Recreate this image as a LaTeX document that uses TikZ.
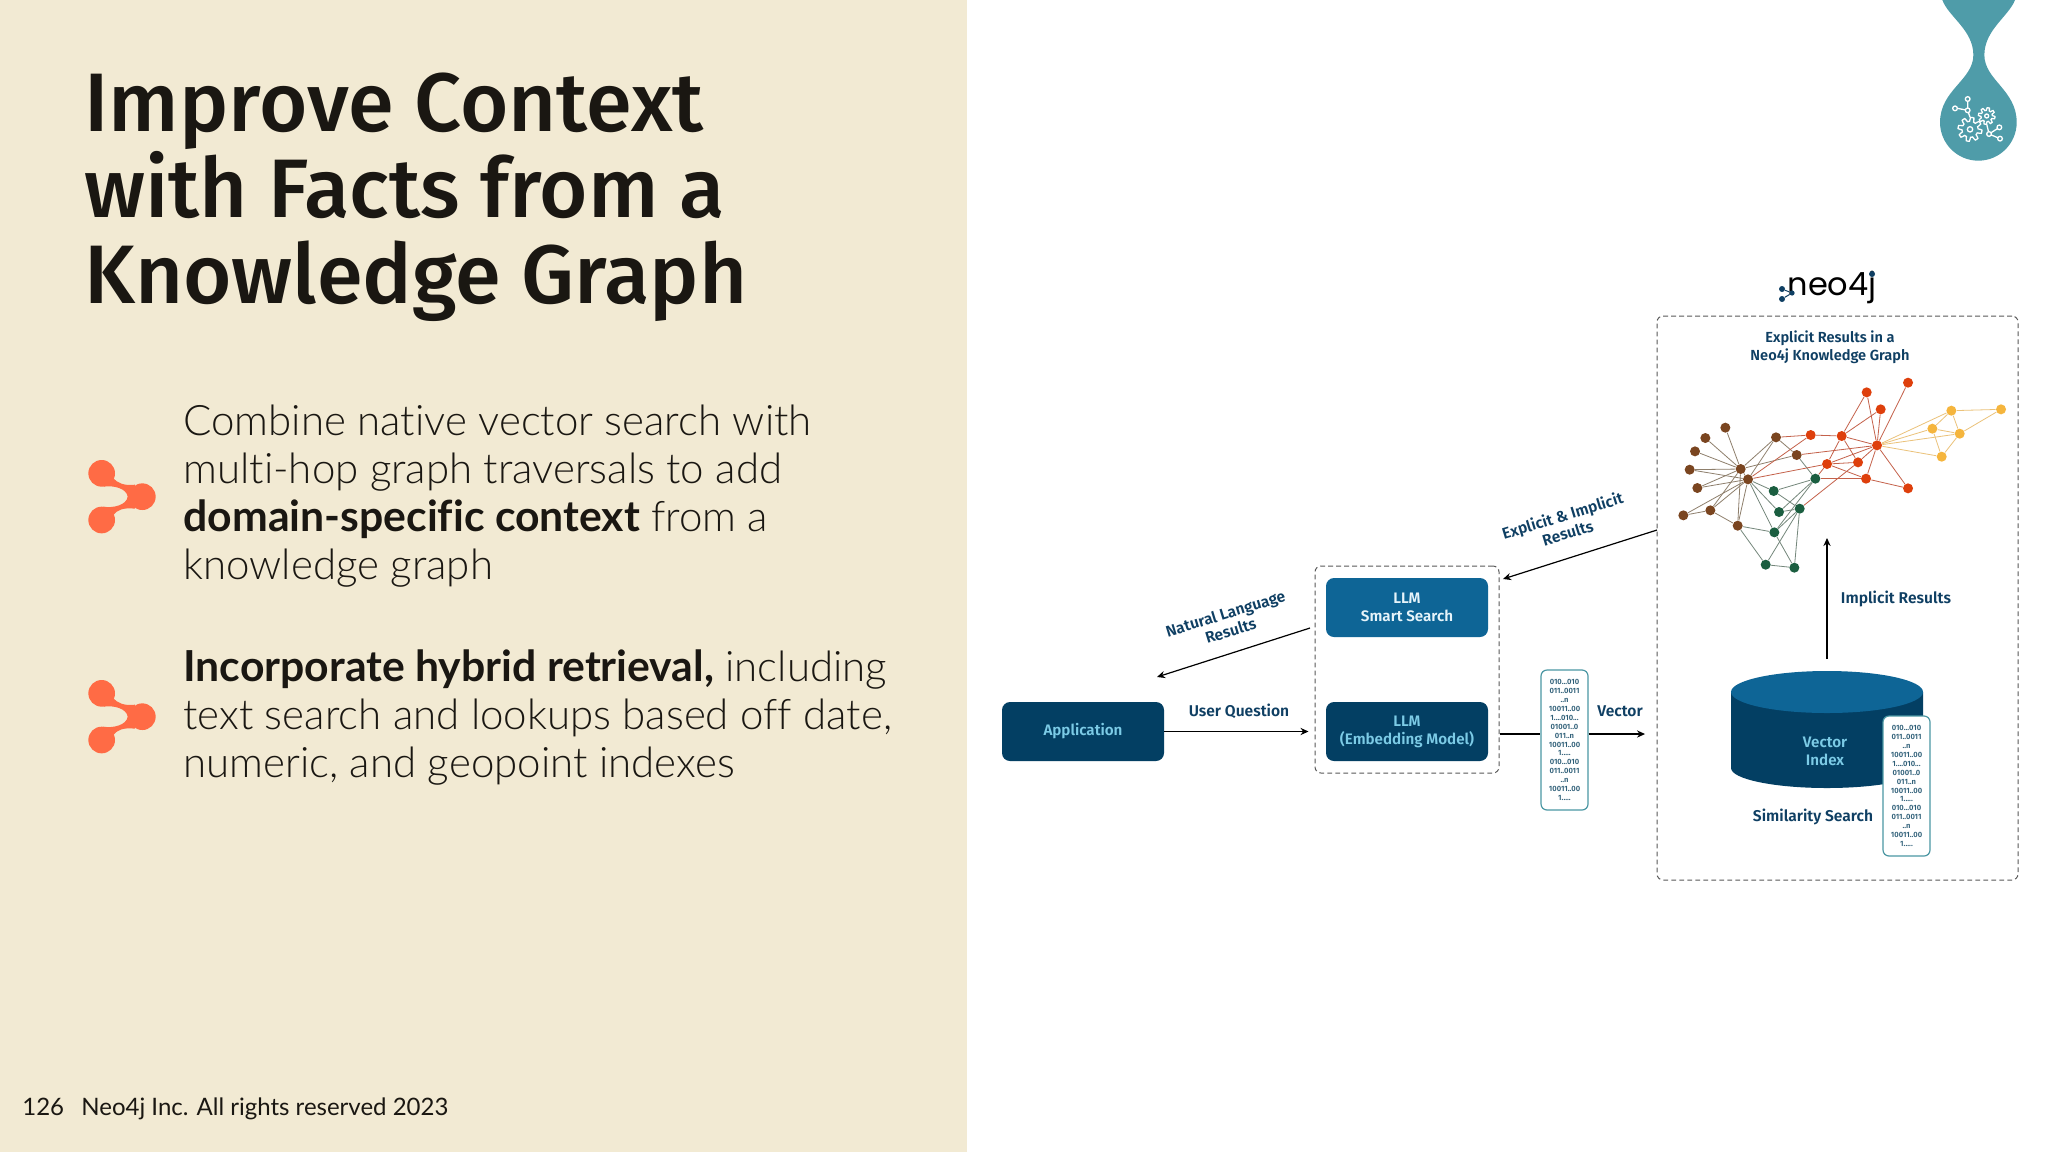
\documentclass[tikz,border=0pt]{standalone}
\usepackage{fontspec}
\usetikzlibrary{arrows.meta,backgrounds,calc}
\setmainfont{Noto Sans}
\newfontfamily\titlefont{Fira Sans Medium}
\newfontfamily\labelfont{Fira Sans SemiBold}
\newfontfamily\bodyfont{Lato Light}[BoldFont={Lato Bold},BoldFeatures={Scale=1.017},Ligatures=NoCommon]
\newfontfamily\footfont{Lato}[Ligatures=NoCommon]
\newfontfamily\logofont{Poppins}
\definecolor{panel}{HTML}{F2EAD3}
\definecolor{ink}{HTML}{1A1712}
\definecolor{coral}{HTML}{FF6B45}
\definecolor{dropteal}{HTML}{4F9CA9}
\definecolor{navy}{HTML}{033F63}
\definecolor{midblue}{HTML}{0E6596}
\definecolor{skytext}{HTML}{7CCBE6}
\definecolor{paletext}{HTML}{E6F4FA}
\definecolor{labelblue}{HTML}{0F3F63}
\definecolor{chipedge}{HTML}{4B97A3}
\definecolor{chiptext}{HTML}{2F5F78}
\definecolor{gbrown}{HTML}{7A4520}
\definecolor{gred}{HTML}{DE3F0C}
\definecolor{gyellow}{HTML}{F5B53D}
\definecolor{ggreen}{HTML}{1B5E40}
\definecolor{ebrown}{HTML}{8E7F6C}
\definecolor{ered}{HTML}{C4614A}
\definecolor{eyellow}{HTML}{EBC27A}
\definecolor{egreen}{HTML}{74877B}
\tikzset{
  px/.style={x=0.5pt,y=-0.5pt},
  titletext/.style={inner sep=0pt,anchor=north west,align=left,text=ink,font=\titlefont\fontsize{41.5}{43}\selectfont},
  bodytext/.style={inner sep=0pt,anchor=north west,align=left,text=ink,font=\bodyfont\fontsize{21}{24}\selectfont},
  foot/.style={inner sep=0pt,anchor=base west,text=ink,font=\footfont\fontsize{12}{14}\selectfont},
  flowbox/.style={rounded corners=4pt,inner sep=0pt,align=center,text=skytext,font=\labelfont\fontsize{7.6}{9}\selectfont},
  dashbox/.style={draw=black!65,line width=0.5pt,dash pattern=on 2.4pt off 1.6pt,rounded corners=3pt,inner sep=0pt},
  lbl/.style={inner sep=0pt,align=center,text=labelblue,font=\labelfont\fontsize{7.8}{9}\selectfont},
  chip/.style={draw=chipedge,line width=0.6pt,fill=white,rounded corners=3pt,inner sep=0pt,align=center,text=chiptext,font=\labelfont\fontsize{3.8}{4.45}\selectfont},
  flow/.style={-{Stealth[length=4pt,width=3.6pt]},line width=0.6pt,black},
  plainline/.style={line width=0.6pt,black},
  gn/.style={circle,inner sep=0pt,minimum size=5pt},
  bn/.style={gn,fill=gbrown},
  rn/.style={gn,fill=gred},
  yn/.style={gn,fill=gyellow},
  ln/.style={gn,fill=ggreen},
  gedge/.style={line width=0.4pt},
  iconline/.style={draw=white,line width=0.65pt},
}
\newcommand{\chiptxt}{010...010\\011..0011\\..n\\10011..00\\1....010...\\01001..0\\011..n\\10011..00\\1.....\\010...010\\011..0011\\..n\\10011..00\\1.....}
\newcommand{\coralmark}{%
  \fill[coral] (125,100) circle[radius=40];
  \fill[coral] (125,240) circle[radius=40];
  \fill[coral] (247,170) circle[radius=40];
  \fill[coral] (160,115) .. controls (172,128) and (190,138) .. (225,134) -- (225,206)
    .. controls (190,202) and (172,210) .. (160,225) -- (130,200)
    .. controls (160,205) and (200,195) .. (203,170)
    .. controls (200,145) and (160,135) .. (130,140) -- cycle;
}
\begin{document}
\begin{tikzpicture}[px]
\useasboundingbox (0,0) rectangle (2048,1152);
\begin{scope}[on background layer]
\fill[white] (0,0) rectangle (2048,1152);
\fill[panel] (0,0) rectangle (967,1152);
\end{scope}

\node[titletext] (title) at (84,72) {Improve Context\\with Facts from a\\Knowledge Graph};
\node[bodytext] (para1) at (183,405) {Combine native vector search with\\multi-hop graph traversals to add\\\textbf{domain-specific context} from a\\knowledge graph};
\node[bodytext] (para2) at (183,649) {\textbf{Incorporate hybrid retrieval,} including\\text search and lookups based off date,\\numeric, and geopoint indexes};
\node[foot] (pageno) at (22,1115) {126};
\node[foot] (rights) at (81,1115) {Neo4j Inc. All rights reserved 2023};

\begin{scope}[shift={(60,440)},x=0.16667pt,y=-0.16667pt]
  \coralmark
\end{scope}
\begin{scope}[shift={(60,660)},x=0.16667pt,y=-0.16667pt]
  \coralmark
\end{scope}

% teal drop
\begin{scope}[shift={(1920,0)},x=0.16667pt,y=-0.16667pt]
  \fill[dropteal] (67,0) .. controls (85,50) and (160,90) .. (160,165)
    .. controls (160,240) and (60,270) .. (60,367)
    arc[start angle=180,end angle=0,radius=115]
    .. controls (290,270) and (193,240) .. (193,165)
    .. controls (193,90) and (265,50) .. (285,0) -- cycle;
  \draw[iconline,shift={(150,388)}] plot[samples=97,domain=0:360] (\x:{30+6*tanh(5*sin(8*\x))}) -- cycle;
  \draw[iconline,shift={(150,388)}] (0,0) circle[radius=8];
  \draw[iconline,shift={(200,348)}] plot[samples=97,domain=0:360] (\x:{21+4*tanh(5*sin(8*\x))}) -- cycle;
  \draw[iconline,shift={(200,348)}] (0,0) circle[radius=6];
  \draw[iconline] (143,331)--(143,304) (143,331)--(112,325) (143,331)--(150,352) (200,372)--(207,402) (207,402)--(232,386) (207,402)--(233,413);
  \draw[iconline,fill=dropteal] (143,297) circle[radius=7] (105,325) circle[radius=7] (143,331) circle[radius=7] (238,382) circle[radius=7] (240,416) circle[radius=7] (207,402) circle[radius=7];
\end{scope}

% left flow
\node[dashbox,minimum width=92pt,minimum height=103.5pt] (llmgroup) at (1407,669.5) {};
\node[flowbox,fill=navy,minimum width=81pt,minimum height=29.5pt] (app) at (1083,731.5) {Application};
\node[flowbox,fill=midblue,text=paletext,minimum width=81pt,minimum height=29.5pt] (smart) at (1407,607.5) {LLM\\Smart Search};
\node[flowbox,fill=navy,minimum width=81pt,minimum height=29.5pt] (embed) at (1407,731.5) {LLM\\(Embedding Model)};
\node[chip,minimum width=23.5pt,minimum height=70pt] (vec1) at (1564.5,740) {\chiptxt};
\node[dashbox,minimum width=180.5pt,minimum height=282pt] (neobox) at (1837.5,598) {};

\coordinate (nlstart) at (1310,628);
\coordinate (nlend) at (1157,677);
\coordinate (exend) at (1503,579);
\coordinate (exstart) at (1657,530);
\coordinate (embout) at (1500,734);
\coordinate (vecend) at (1645,734);
\coordinate (imstart) at (1827,659);
\coordinate (imend) at (1827,538);

\draw[flow] (app.east) -- ($(llmgroup.west |- app.east)+(-6,0)$);
\draw[flow] (nlstart) -- (nlend);
\draw[flow] (exstart) -- (exend);
\draw[plainline] (embout) -- (vec1.west |- embout);
\draw[flow] (vec1.east |- embout) -- (vecend);
\draw[flow] (imstart) -- (imend);

\node[lbl] (uq) at (1239,711) {User Question};
\node[lbl,rotate=17] (nl) at (1228,622) {Natural Language\\Results};
\node[lbl,rotate=17] (ex) at (1565,524) {Explicit \& Implicit\\Results};
\node[lbl] (vl) at (1620,711) {Vector};
\node[lbl] (il) at (1896,598.5) {Implicit Results};
\node[lbl] (sl) at (1813,817) {Similarity Search};
\node[lbl,font=\labelfont\fontsize{7.3}{9}\selectfont] (expl) at (1830,347) {Explicit Results in a\\Neo4j Knowledge Graph};

% vector index cylinder
\fill[navy] (1731,692) -- (1731,768) arc[start angle=180,end angle=0,x radius=96,y radius=20] -- (1923,692) -- cycle;
\fill[midblue] (1827,692) ellipse[x radius=96,y radius=21];
\node[flowbox] (vindex) at (1825,751) {Vector\\Index};
\node[chip,minimum width=23.5pt,minimum height=70pt] (vec2) at (1906.5,786) {\chiptxt};

% logo
\node[inner sep=0pt,anchor=base,text=black,font=\logofont\fontsize{16}{18}\selectfont] (logo) at (1832,295) {neo4j};
\fill[labelblue] (1872,274) circle[radius=3];
\node[circle,fill=labelblue,inner sep=0pt,minimum size=3pt] (la) at (1782,289) {};
\node[circle,fill=labelblue,inner sep=0pt,minimum size=2.6pt] (lb) at (1792,293) {};
\node[circle,fill=labelblue,inner sep=0pt,minimum size=3pt] (lc) at (1782,299) {};
\draw[labelblue,line width=0.5pt] (la) -- (lb) -- (lc);

% graph
\begin{scope}[shift={(1640,250)},x=0.16667pt,y=-0.16667pt]
\foreach \n/\a/\b in {b1/256/533,b2/196/564,b3/165/604,b4/149/659,b5/172/714,b6/130/796,b7/211/781,b8/293/827,h1/302/657,h2/324/688,b9/408/562,b10/470/615}
  \node[bn] (\n) at (\a,\b) {};
\foreach \n/\a/\b in {r1/512/555,r2/605/558,r3/680/427,r4/722/478,r5/804/398,r6/711/586,r7/561/642,r8/654/637,r9/678/686,r10/804/715}
  \node[rn] (\n) at (\a,\b) {};
\foreach \n/\a/\b in {y1/934/482,y2/1083/478,y3/877/536,y4/959/551,y5/905/620}
  \node[yn] (\n) at (\a,\b) {};
\foreach \n/\a/\b in {g1/526/686,g2/401/723,g3/417/786,g4/479/776,g5/403/847,g6/377/944,g7/463/953}
  \node[ln] (\n) at (\a,\b) {};
\begin{scope}[on background layer]
\foreach \p/\q in {h1/b1,h1/b2,h1/b3,h1/b4,h2/b4,h1/b5,h2/b5,h2/b6,b6/b7,h1/b7,h2/b7,b7/b8,h1/b8,h2/b8,h1/b9,h2/b9,h1/b10,h1/h2,b9/b10}
  \draw[gedge,ebrown] (\p) -- (\q);
\foreach \p/\q in {b8/g5,b8/g6,h2/g2,h2/g3,h2/g5,b10/g1,g1/g2,g1/g3,g1/g5,g2/g4,g3/g4,g4/g6,g4/g7,g5/g7,g6/g7,g5/g4}
  \draw[gedge,egreen] (\p) -- (\q);
\foreach \p/\q in {h2/r1,h2/r7,b9/r1,r1/r2,b10/r6,g1/r9,g1/r7,g4/r8,r2/r3,r2/r4,r2/r6,r2/r7,r2/r8,r3/r6,r4/r6,r5/r6,r6/r7,r6/r8,r6/r9,r6/r10,r7/r8,r7/r9,r9/r10}
  \draw[gedge,ered] (\p) -- (\q);
\foreach \p/\q in {r6/y1,r6/y3,r6/y4,r6/y5,y1/y2,y1/y3,y1/y4,y2/y4,y3/y4,y3/y5,y4/y5}
  \draw[gedge,eyellow] (\p) -- (\q);
\end{scope}
\end{scope}
\end{tikzpicture}
\end{document}
